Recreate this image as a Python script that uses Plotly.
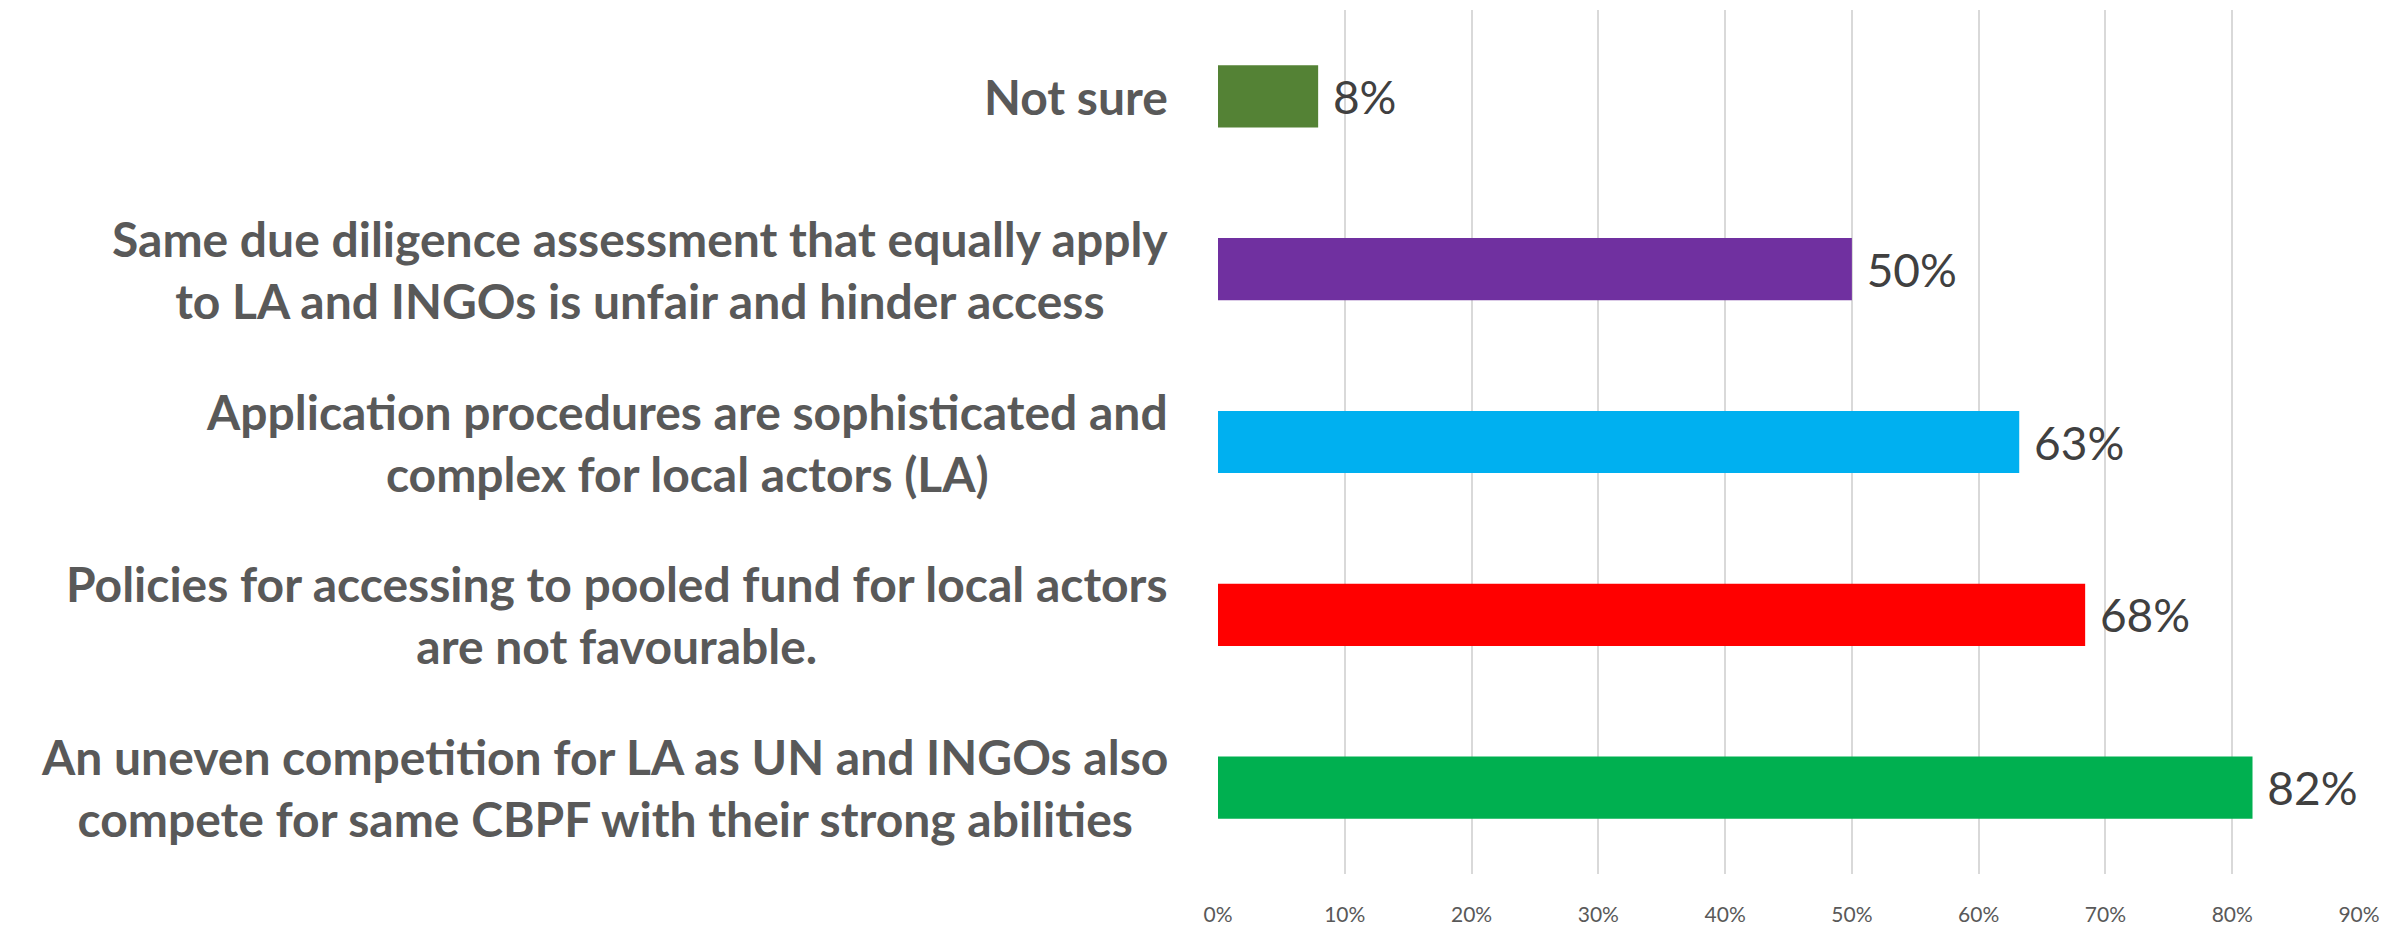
import plotly.graph_objects as go

# Data (top to bottom as displayed)
categories = [
    "Not sure",
    "Same due diligence assessment that equally apply<br>to LA and INGOs is unfair and hinder access",
    "Application procedures are sophisticated and<br>complex for local actors (LA)",
    "Policies for accessing to pooled fund for local actors<br>are not favourable.",
    "An uneven competition for LA as UN and INGOs also<br>compete for same CBPF with their strong abilities",
]
values = [0.079, 0.500, 0.632, 0.684, 0.816]
bar_colors = ["#548235", "#7030A0", "#00B0F0", "#FF0000", "#00B050"]
x_ticks = [0.0, 0.1, 0.2, 0.3, 0.4, 0.5, 0.6, 0.7, 0.8, 0.9]
x_tick_labels = ["0%", "10%", "20%", "30%", "40%", "50%", "60%", "70%", "80%", "90%"]

# page body has an 8px margin, so the figure is sized to fill the rest
W, H = 2391, 920
fig = go.Figure()
fig.add_trace(go.Bar(
    y=categories,
    x=values,
    orientation="h",
    marker=dict(color=bar_colors, line=dict(width=0)),
    texttemplate="\u00a0%{x:.0%}",
    textposition="outside",
    constraintext="none",
    cliponaxis=False,
    textfont=dict(family="Lato", size=46, color="#404040"),
    hoverinfo="skip",
))

for cat in categories:
    fig.add_annotation(
        x=0, xref="paper", y=cat, yref="y",
        xanchor="right", yanchor="middle", xshift=-48,
        text=cat, showarrow=False, align="center",
        font=dict(family="Lato", size=48, color="#595959", weight="bold"),
    )

fig.update_layout(
    width=W, height=H,
    margin=dict(l=1210, r=40, t=2, b=44, pad=0),
    paper_bgcolor="white", plot_bgcolor="white",
    bargap=0.64,
    showlegend=False,
    xaxis=dict(
        range=[0, 0.9], tickvals=x_ticks, ticktext=x_tick_labels,
        showgrid=True, gridcolor="#D9D9D9", gridwidth=2,
        zeroline=False, showline=False,
        ticks="outside", ticklen=22, tickcolor="rgba(0,0,0,0)",
        tickfont=dict(family="Lato", size=21, color="#595959"),
    ),
    yaxis=dict(
        type="category", categoryorder="array", categoryarray=categories,
        autorange="reversed", showticklabels=False, showgrid=False,
        zeroline=False, showline=False,
    ),
)

fig.write_html("out.html")
